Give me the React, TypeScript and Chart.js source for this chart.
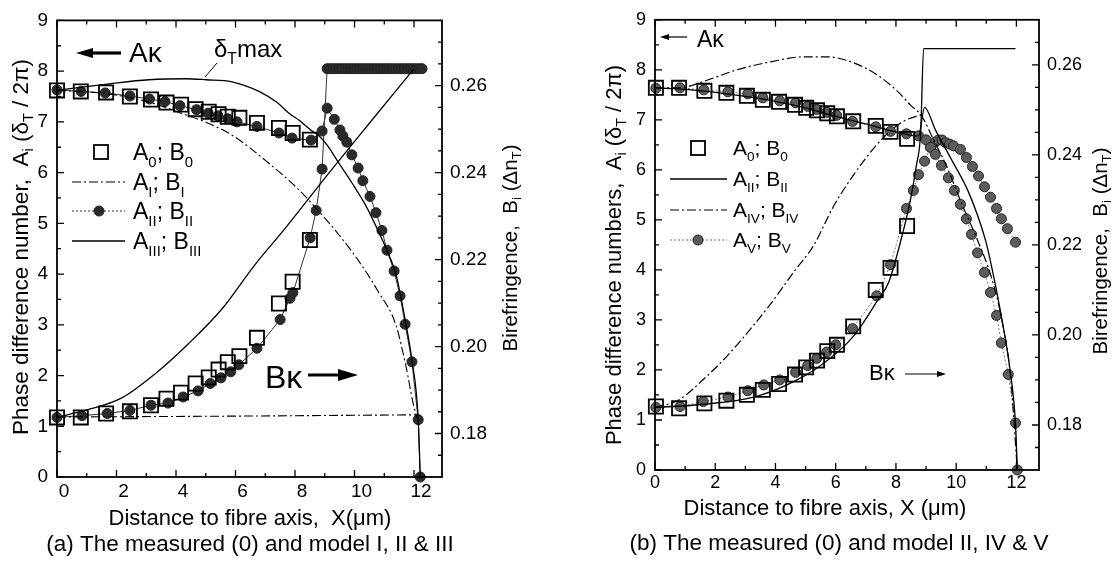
import { useEffect, useRef } from "react";
import { Chart, registerables } from "chart.js";

Chart.register(...registerables);

const FONT = '"Liberation Sans", Arial, Helvetica, sans-serif';

// ---------- tick values ----------
const xMajor = [0, 2, 4, 6, 8, 10, 12];
const xMinor = [1, 3, 5, 7, 9, 11];
const aMajor = [0, 1, 2, 3, 4, 5, 6, 7, 8, 9];
const aMinor = [0.5, 1.5, 2.5, 3.5, 4.5, 5.5, 6.5, 7.5, 8.5];
const bMajor = [0.18, 0.2, 0.22, 0.24, 0.26];
const bMinor = [0.175, 0.185, 0.19, 0.195, 0.205, 0.21, 0.215, 0.225, 0.23, 0.235, 0.245, 0.25, 0.255, 0.265, 0.27];

// ---------- panel (a): measured (0) and models I, II, III ----------
const aX0 = [0, 0.8, 1.65, 2.45, 3.16, 3.68, 4.17, 4.66, 5.1, 5.43, 5.74, 6.13, 6.72, 7.46, 7.92, 8.5];
const aA0 = [7.62, 7.6, 7.58, 7.5, 7.44, 7.38, 7.34, 7.25, 7.2, 7.15, 7.1, 7.08, 6.98, 6.88, 6.78, 6.65];
const aB0 = [0.1837, 0.1837, 0.1846, 0.1851, 0.1865, 0.188, 0.1894, 0.1915, 0.1929, 0.1947, 0.1964, 0.1978, 0.202, 0.2099, 0.2149, 0.2245];

const aXAI = [0, 1.27, 2.26, 3.26, 4.26, 4.76, 5.85, 7.15, 8.15, 8.75, 9.44, 10.15, 10.8, 11.39, 11.74, 11.97, 12.1];
const aAI = [7.62, 7.58, 7.5, 7.36, 7.15, 7.05, 6.75, 6.17, 5.65, 5.27, 4.8, 4.25, 3.65, 3.0, 2.15, 1.45, 1.17];
const aXBI = [0, 6, 12.1];
const aBI = [0.1838, 0.184, 0.1843];

const aXAII = [0, 0.81, 1.62, 2.45, 3.11, 3.63, 4.13, 4.69, 5.08, 5.41, 5.74, 6.05, 6.72, 7.46, 7.9, 8.54, 8.91, 9.08, 9.32, 9.51, 9.61, 9.74, 9.91, 10.12, 10.28, 10.52, 10.72, 10.92, 11.09, 11.33, 11.53, 11.7, 11.93, 12.14, 12.21];
const aAII = [7.63, 7.6, 7.57, 7.51, 7.45, 7.4, 7.32, 7.24, 7.17, 7.12, 7.06, 7.0, 6.91, 6.78, 6.68, 6.64, 6.82, 7.27, 7.05, 6.84, 6.72, 6.6, 6.35, 6.09, 5.84, 5.53, 5.21, 4.86, 4.47, 4.06, 3.57, 3.01, 2.27, 1.13, 0];
const aXBII = [0, 0.84, 1.69, 2.45, 3.16, 3.73, 4.24, 4.74, 5.15, 5.51, 5.84, 6.11, 6.72, 7.5, 7.83, 7.93, 8.51, 8.71, 8.91,
  9.08, 9.18, 9.28, 9.38, 9.48, 9.58, 9.68, 9.78, 9.88, 9.98, 10.08, 10.18, 10.28, 10.38, 10.48, 10.58, 10.68, 10.78, 10.88, 10.98,
  11.08, 11.18, 11.28, 11.38, 11.48, 11.58, 11.68, 11.78, 11.88, 11.98, 12.08, 12.18, 12.27];
const aBII = [0.1837, 0.1841, 0.1846, 0.1853, 0.1865, 0.187, 0.1884, 0.1898, 0.1915, 0.1928, 0.1942, 0.1958, 0.1996, 0.2062, 0.2111, 0.2124, 0.225, 0.2313, 0.2408,
  0.2639, 0.2639, 0.2639, 0.2639, 0.2639, 0.2639, 0.2639, 0.2639, 0.2639, 0.2639, 0.2639, 0.2639, 0.2639, 0.2639, 0.2639, 0.2639, 0.2639, 0.2639, 0.2639, 0.2639,
  0.2639, 0.2639, 0.2639, 0.2639, 0.2639, 0.2639, 0.2639, 0.2639, 0.2639, 0.2639, 0.2639, 0.2639, 0.2639];

const aXAIII = [0, 0.77, 1.75, 3.09, 4.34, 5.01, 5.88, 6.79, 7.4, 7.8, 8.14, 8.57, 8.81, 9.08, 9.47, 9.91, 10.38, 10.82, 11.16, 11.4, 11.7, 11.93, 12.14, 12.21];
const aAIII = [7.62, 7.68, 7.75, 7.83, 7.85, 7.83, 7.79, 7.6, 7.38, 7.17, 7.03, 6.82, 6.72, 6.54, 6.19, 5.8, 5.35, 4.82, 4.37, 3.98, 3.1, 2.3, 1.15, 0];
const aXBIII = [0, 0.94, 2.18, 3.29, 4.41, 5.55, 6.65, 7.66, 9.15, 10.54, 12.0];
const aBIII = [0.1837, 0.1853, 0.1882, 0.1937, 0.2006, 0.2087, 0.2188, 0.2271, 0.24, 0.2517, 0.2639];

// ---------- panel (b): measured (0) and models II, IV, V ----------
const bX0 = [0.03, 0.8, 1.64, 2.37, 3.05, 3.58, 4.12, 4.65, 5.02, 5.38, 5.72, 6.04, 6.58, 7.33, 7.82, 8.37];
const bA0 = [7.64, 7.64, 7.58, 7.54, 7.48, 7.4, 7.36, 7.3, 7.24, 7.19, 7.13, 7.07, 6.97, 6.88, 6.76, 6.62];
const bB0 = [0.1841, 0.1837, 0.1848, 0.1854, 0.1867, 0.1878, 0.1891, 0.1912, 0.1928, 0.1943, 0.1964, 0.1978, 0.2019, 0.21, 0.2149, 0.2242];

const bXAII = [0, 1, 2, 3, 4, 5, 6, 7, 8, 8.75, 8.95, 9.31, 9.84, 10.4, 10.97, 11.2, 11.5, 11.8, 11.97, 12.03];
const bAII = [7.64, 7.61, 7.55, 7.47, 7.37, 7.24, 7.07, 6.92, 6.76, 6.68, 7.25, 6.8, 6.21, 5.57, 4.6, 4.0, 3.07, 1.95, 0.92, 0];
const bXBII = [0, 1.62, 3.28, 4.38, 5.5, 6.6, 7.42, 7.76, 8.19, 8.49, 8.68, 8.82, 8.92, 11.97];
const bBII = [0.1839, 0.1846, 0.1862, 0.1889, 0.1932, 0.1998, 0.208, 0.2117, 0.2217, 0.2303, 0.2377, 0.2449, 0.2636, 0.2636];

const bXAIV = [0, 0.8, 1.62, 2.72, 3.84, 4.94, 5.7, 6.6, 7.42, 8.09, 8.49, 8.85, 9.25, 9.7, 10.2, 10.74, 11.17, 11.5, 11.8, 12.03];
const bAIV = [7.64, 7.64, 7.77, 8.0, 8.16, 8.26, 8.26, 8.14, 7.88, 7.55, 7.29, 7.08, 6.6, 6.05, 5.3, 4.55, 3.85, 3.05, 1.9, 0];
const bXBIV = [0, 0.8, 1.62, 2.39, 3.18, 3.84, 4.61, 5.27, 5.93, 6.6, 7.33, 7.86, 8.32, 8.85];
const bBIV = [0.1839, 0.1856, 0.1902, 0.1953, 0.2014, 0.2069, 0.214, 0.2199, 0.2286, 0.2356, 0.242, 0.2456, 0.2477, 0.2489];

const bXAV = [0.03, 0.83, 1.62, 2.42, 3.08, 3.58, 4.14, 4.67, 5.07, 5.37, 5.7, 6.03, 6.56, 7.33, 7.82, 8.35, 8.75, 9.0, 9.15, 9.31, 9.51, 9.74, 9.94, 10.14, 10.34, 10.51, 10.71, 10.94, 11.14, 11.34, 11.5, 11.73, 11.97, 12.03];
const bAV = [7.63, 7.64, 7.6, 7.56, 7.52, 7.44, 7.38, 7.34, 7.27, 7.21, 7.15, 7.09, 6.97, 6.86, 6.77, 6.72, 6.68, 6.6, 6.45, 6.31, 6.09, 5.84, 5.59, 5.31, 5.02, 4.71, 4.34, 3.95, 3.55, 3.09, 2.54, 1.91, 0.94, 0];
const bXBV = [0.03, 0.83, 1.6, 2.42, 3.08, 3.61, 4.14, 4.67, 5.07, 5.37, 5.7, 6.0, 6.56, 7.36, 7.82, 8.35, 8.58, 8.75, 8.95, 9.15, 9.3, 9.41, 9.53, 9.65, 9.78, 9.91, 10.14, 10.34, 10.54, 10.74, 10.94, 11.14, 11.34, 11.5, 11.7, 11.97];
const bBV = [0.1839, 0.1841, 0.1852, 0.1862, 0.1876, 0.1889, 0.19, 0.1917, 0.1932, 0.1948, 0.1962, 0.1978, 0.2014, 0.2087, 0.2156, 0.2281, 0.2321, 0.2356, 0.2386, 0.2417, 0.2428, 0.2433, 0.2433, 0.2427, 0.2424, 0.242, 0.2412, 0.2394, 0.2374, 0.2353, 0.2329, 0.2306, 0.2281, 0.2258, 0.2236, 0.2206];

// ---------- helpers ----------
const pts = (xs: number[], ys: number[]) => xs.map((x, i) => ({ x, y: ys[i] }));

const squares = (data: any[], yAxisID: string) => ({
  data, yAxisID, showLine: false, pointStyle: "rect", pointRadius: 10, pointBorderWidth: 1.8,
  pointBorderColor: "#000", pointBackgroundColor: "rgba(0,0,0,0)", clip: false,
});
const curve = (data: any[], yAxisID: string, dash: number[], width = 1.3) => ({
  data, yAxisID, showLine: true, pointRadius: 0, borderColor: "#000", borderWidth: width,
  borderDash: dash, cubicInterpolationMode: "monotone", clip: false,
});
const dots = (data: any[], yAxisID: string, fill: string, lineColor: string, dash: number[]) => ({
  data, yAxisID, showLine: true, pointStyle: "circle", pointRadius: 5, pointBorderWidth: 1,
  pointBorderColor: "#222", pointBackgroundColor: fill, borderColor: lineColor, borderWidth: 1,
  borderDash: dash, clip: false,
});

type Seg = [string, boolean];

function drawRich(ctx: CanvasRenderingContext2D, segs: Seg[], x: number, y: number, size: number, align: "left" | "center") {
  const sub = size * 0.65;
  let w = 0;
  for (const [t, s] of segs) {
    ctx.font = `${s ? sub : size}px ${FONT}`;
    w += ctx.measureText(t).width;
  }
  let cx = align === "center" ? x - w / 2 : x;
  ctx.textAlign = "left";
  for (const [t, s] of segs) {
    ctx.font = `${s ? sub : size}px ${FONT}`;
    ctx.fillText(t, cx, s ? y + size * 0.3 : y);
    cx += ctx.measureText(t).width;
  }
}

function drawRotated(ctx: CanvasRenderingContext2D, segs: Seg[], cx: number, cy: number, size: number) {
  ctx.save();
  ctx.translate(cx, cy);
  ctx.rotate(-Math.PI / 2);
  ctx.textBaseline = "middle";
  drawRich(ctx, segs, 0, 0, size, "center");
  ctx.restore();
}

function arrow(ctx: CanvasRenderingContext2D, tail: number, tip: number, y: number, lw: number, head: number, half: number) {
  const dir = tip > tail ? 1 : -1;
  ctx.save();
  ctx.setLineDash([]);
  ctx.lineWidth = lw;
  ctx.beginPath();
  ctx.moveTo(tail, y);
  ctx.lineTo(tip - dir * head * 0.8, y);
  ctx.stroke();
  ctx.beginPath();
  ctx.moveTo(tip, y);
  ctx.lineTo(tip - dir * head, y - half);
  ctx.lineTo(tip - dir * head, y + half);
  ctx.closePath();
  ctx.fill();
  ctx.restore();
}

function legLine(ctx: CanvasRenderingContext2D, x1: number, x2: number, y: number, lw: number, dash: number[], color = "#000") {
  ctx.save();
  ctx.strokeStyle = color;
  ctx.lineWidth = lw;
  ctx.setLineDash(dash);
  ctx.beginPath();
  ctx.moveTo(x1, y);
  ctx.lineTo(x2, y);
  ctx.stroke();
  ctx.restore();
}
function legSquare(ctx: CanvasRenderingContext2D, x: number, y: number) {
  ctx.save();
  ctx.setLineDash([]);
  ctx.lineWidth = 1.8;
  ctx.strokeRect(x - 7, y - 7, 14, 14);
  ctx.restore();
}
function legDot(ctx: CanvasRenderingContext2D, x: number, y: number, fill: string) {
  ctx.save();
  ctx.setLineDash([]);
  ctx.fillStyle = fill;
  ctx.strokeStyle = "#222";
  ctx.lineWidth = 1;
  ctx.beginPath();
  ctx.arc(x, y, 5, 0, Math.PI * 2);
  ctx.fill();
  ctx.stroke();
  ctx.restore();
}

const DASHDOT = [9, 3, 2, 3];

interface PanelSpec {
  id: string;
  pageLeft: number;
  width: number;
  height: number;
  areaLeft: number;
  areaRight: number;
  areaTop: number;
  areaBottom: number;
  xMin: number;
  xMax: number;
  bMin: number;
  bMax: number;
  tickFont: number;
  xLabelOffset: number;
  xLabelPad: number;
  datasets: any[];
  annotate: (ctx: CanvasRenderingContext2D) => void;
}

const DOT_A = "#2a2a2a";
const DOT_B = "#5c5c5c";

const panelA: PanelSpec = {
  id: "a",
  pageLeft: 0,
  width: 560,
  height: 565,
  areaLeft: 57,
  areaRight: 442,
  areaTop: 16,
  areaBottom: 477,
  xMin: 0,
  xMax: 12.94,
  bMin: 0.17,
  bMax: 0.275,
  tickFont: 19,
  xLabelOffset: 7,
  xLabelPad: 3,
  datasets: [
    squares(pts(aX0, aA0), "y"),
    squares(pts(aX0, aB0), "y1"),
    curve(pts(aXAI, aAI), "y", DASHDOT, 1.1),
    curve(pts(aXBI, aBI), "y1", DASHDOT, 1.1),
    curve(pts(aXAIII, aAIII), "y", [], 1.3),
    curve(pts(aXBIII, aBIII), "y1", [], 1.3),
    dots(pts(aXAII, aAII), "y", DOT_A, "#333", []),
    dots(pts(aXBII, aBII), "y1", DOT_A, "#333", []),
  ],
  annotate: (ctx) => {
    ctx.fillStyle = "#000";
    ctx.strokeStyle = "#000";
    ctx.textBaseline = "alphabetic";
    // A kappa with arrow
    arrow(ctx, 121, 76, 53, 3.2, 17, 5);
    drawRich(ctx, [["Aκ", false]], 129, 62, 28, "left");
    // delta_T max with leader
    drawRich(ctx, [["δ", false], ["T", true], ["max", false]], 214, 57, 24, "left");
    ctx.lineWidth = 1;
    ctx.setLineDash([]);
    ctx.beginPath();
    ctx.moveTo(205, 77);
    ctx.lineTo(217, 63);
    ctx.stroke();
    // B kappa with arrow
    drawRich(ctx, [["Bκ", false]], 265, 388, 32, "left");
    arrow(ctx, 308, 358, 375, 3.2, 20, 6);
    // legend
    const tx = 133;
    const fs = 23;
    legSquare(ctx, 101, 152);
    drawRich(ctx, [["A", false], ["0", true], ["; B", false], ["0", true]], tx, 152 + 8, fs, "left");
    legLine(ctx, 72, 125, 182, 1.1, DASHDOT);
    drawRich(ctx, [["A", false], ["I", true], ["; B", false], ["I", true]], tx, 182 + 8, fs, "left");
    legLine(ctx, 72, 125, 211, 1, [2, 2], "#333");
    legDot(ctx, 99, 211, DOT_A);
    drawRich(ctx, [["A", false], ["II", true], ["; B", false], ["II", true]], tx, 211 + 8, fs, "left");
    legLine(ctx, 72, 125, 241, 1.3, []);
    drawRich(ctx, [["A", false], ["III", true], ["; B", false], ["III", true]], tx, 241 + 8, fs, "left");
    // axis titles
    ctx.fillStyle = "#000";
    drawRotated(ctx, [["Phase difference number,  A", false], ["i", true], [" (δ", false], ["T", true], [" / 2π)", false]], 22, 247, 22.5);
    drawRotated(ctx, [["Birefringence,  B", false], ["i", true], [" (Δn", false], ["T", true], [")", false]], 511, 248, 20.5);
    ctx.textBaseline = "alphabetic";
    drawRich(ctx, [["Distance to fibre axis,  X(μm)", false]], 250, 525, 22, "center");
    drawRich(ctx, [["(a) The measured (0) and model I, II & III", false]], 250, 551, 22.5, "center");
  },
};

const OFF = 560;
const panelB: PanelSpec = {
  id: "b",
  pageLeft: OFF,
  width: 557,
  height: 565,
  areaLeft: 95,
  areaRight: 479,
  areaTop: 9,
  areaBottom: 470,
  xMin: 0,
  xMax: 12.75,
  bMin: 0.17,
  bMax: 0.27,
  tickFont: 18,
  xLabelOffset: 0,
  xLabelPad: 2,
  datasets: [
    squares(pts(bX0, bA0), "y"),
    squares(pts(bX0, bB0), "y1"),
    curve(pts(bXAIV, bAIV), "y", DASHDOT, 1.2),
    curve(pts(bXBIV, bBIV), "y1", DASHDOT, 1.2),
    curve(pts(bXAII, bAII), "y", [], 1.3),
    curve(pts(bXBII, bBII), "y1", [], 1.3),
    dots(pts(bXAV, bAV), "y", DOT_B, "#777", [2, 2]),
    dots(pts(bXBV, bBV), "y1", DOT_B, "#777", [2, 2]),
  ],
  annotate: (ctx) => {
    ctx.fillStyle = "#000";
    ctx.strokeStyle = "#000";
    ctx.textBaseline = "alphabetic";
    arrow(ctx, 687 - OFF, 660 - OFF, 37, 1.2, 9, 3);
    drawRich(ctx, [["Aκ", false]], 697 - OFF, 47, 23, "left");
    drawRich(ctx, [["Bκ", false]], 869 - OFF, 380, 22, "left");
    arrow(ctx, 905 - OFF, 946 - OFF, 374, 1.2, 9, 3);
    // legend
    const tx = 733 - OFF;
    const fs = 21;
    legSquare(ctx, 698 - OFF, 148);
    drawRich(ctx, [["A", false], ["0", true], ["; B", false], ["0", true]], tx, 148 + 7, fs, "left");
    legLine(ctx, 670 - OFF, 727 - OFF, 179, 1.3, []);
    drawRich(ctx, [["A", false], ["II", true], ["; B", false], ["II", true]], tx, 179 + 7, fs, "left");
    legLine(ctx, 670 - OFF, 727 - OFF, 210, 1.2, DASHDOT);
    drawRich(ctx, [["A", false], ["IV", true], ["; B", false], ["IV", true]], tx, 210 + 7, fs, "left");
    legLine(ctx, 670 - OFF, 727 - OFF, 240, 1, [2, 2], "#777");
    legDot(ctx, 698 - OFF, 240, DOT_B);
    drawRich(ctx, [["A", false], ["V", true], ["; B", false], ["V", true]], tx, 240 + 7, fs, "left");
    // titles
    ctx.fillStyle = "#000";
    drawRotated(ctx, [["Phase difference numbers,  A", false], ["i", true], [" (δ", false], ["T", true], [" / 2π)", false]], 615 - OFF, 255, 22);
    drawRotated(ctx, [["Birefringence,  B", false], ["i", true], [" (Δn", false], ["T", true], [")", false]], 1101 - OFF, 251, 20.5);
    ctx.textBaseline = "alphabetic";
    drawRich(ctx, [["Distance to fibre axis, X (μm)", false]], 825 - OFF, 515, 22, "center");
    drawRich(ctx, [["(b) The measured (0) and model II, IV & V", false]], 839 - OFF, 550, 22.5, "center");
  },
};

function Panel({ spec }: { spec: PanelSpec }) {
  const ref = useRef<HTMLCanvasElement>(null);
  useEffect(() => {
    const canvas = ref.current;
    if (!canvas) return;
    const s = spec;
    const framePlugin = {
      id: "frame_" + s.id,
      afterDraw(chart: any) {
        const ctx = chart.ctx as CanvasRenderingContext2D;
        const { left, right, top, bottom } = chart.chartArea;
        const xs = chart.scales.x;
        const ya = chart.scales.y;
        const yb = chart.scales.y1;
        ctx.save();
        ctx.strokeStyle = "#000";
        ctx.fillStyle = "#000";
        ctx.setLineDash([]);
        ctx.lineWidth = 1.3;
        ctx.beginPath();
        const t = (x1: number, y1: number, x2: number, y2: number) => {
          ctx.moveTo(x1, y1);
          ctx.lineTo(x2, y2);
        };
        xMajor.forEach((v) => {
          const p = xs.getPixelForValue(v);
          t(p, bottom, p, bottom - 7);
          t(p, top, p, top + 7);
        });
        xMinor.forEach((v) => {
          const p = xs.getPixelForValue(v);
          t(p, bottom, p, bottom - 4);
          t(p, top, p, top + 4);
        });
        aMajor.forEach((v) => {
          const p = ya.getPixelForValue(v);
          t(left, p, left + 7, p);
        });
        aMinor.forEach((v) => {
          const p = ya.getPixelForValue(v);
          t(left, p, left + 4, p);
        });
        bMajor.forEach((v) => {
          if (v > s.bMin && v < s.bMax) {
            const p = yb.getPixelForValue(v);
            t(right, p, right - 7, p);
          }
        });
        bMinor.forEach((v) => {
          if (v > s.bMin && v < s.bMax) {
            const p = yb.getPixelForValue(v);
            t(right, p, right - 4, p);
          }
        });
        ctx.stroke();
        ctx.lineWidth = 1.8;
        ctx.strokeRect(left, top, right - left, bottom - top);
        s.annotate(ctx);
        ctx.restore();
      },
    };
    const tickFont = { family: FONT, size: s.tickFont };
    const chart = new Chart(canvas, {
      type: "scatter",
      data: { datasets: s.datasets as any },
      options: {
        responsive: false,
        animation: false,
        devicePixelRatio: 1,
        events: [],
        layout: { padding: { top: s.areaTop, left: 0, right: 0, bottom: 0 }, autoPadding: false },
        plugins: { legend: { display: false }, tooltip: { enabled: false }, title: { display: false } },
        scales: {
          x: {
            type: "linear",
            position: "bottom",
            min: s.xMin,
            max: s.xMax,
            grid: { display: false, drawTicks: false },
            border: { display: false },
            ticks: { color: "#000", font: tickFont, padding: s.xLabelPad, labelOffset: s.xLabelOffset, maxRotation: 0, autoSkip: false },
            afterBuildTicks: (sc: any) => {
              sc.ticks = xMajor.map((v) => ({ value: v }));
            },
            afterFit: (sc: any) => {
              sc.height = s.height - s.areaBottom;
            },
          },
          y: {
            type: "linear",
            position: "left",
            min: 0,
            max: 9,
            grid: { display: false, drawTicks: false },
            border: { display: false },
            ticks: { color: "#000", font: tickFont, padding: 9, autoSkip: false },
            afterBuildTicks: (sc: any) => {
              sc.ticks = aMajor.map((v) => ({ value: v }));
            },
            afterFit: (sc: any) => {
              sc.width = s.areaLeft;
            },
          },
          y1: {
            type: "linear",
            position: "right",
            min: s.bMin,
            max: s.bMax,
            grid: { display: false, drawTicks: false },
            border: { display: false },
            ticks: {
              color: "#000",
              font: tickFont,
              padding: 8,
              autoSkip: false,
              callback: (v: any) => Number(v).toFixed(2),
            },
            afterBuildTicks: (sc: any) => {
              sc.ticks = bMajor.map((v) => ({ value: v }));
            },
            afterFit: (sc: any) => {
              sc.width = s.width - s.areaRight;
            },
          },
        },
      } as any,
      plugins: [framePlugin],
    });
    return () => chart.destroy();
  }, [spec]);
  return (
    <canvas
      ref={ref}
      width={spec.width}
      height={spec.height}
      style={{ position: "absolute", left: spec.pageLeft, top: 0, width: spec.width, height: spec.height }}
    />
  );
}

export default function App() {
  return (
    <div style={{ position: "absolute", left: 0, top: 0, width: 1117, height: 565, background: "#fff", overflow: "hidden" }}>
      <Panel spec={panelA} />
      <Panel spec={panelB} />
    </div>
  );
}
